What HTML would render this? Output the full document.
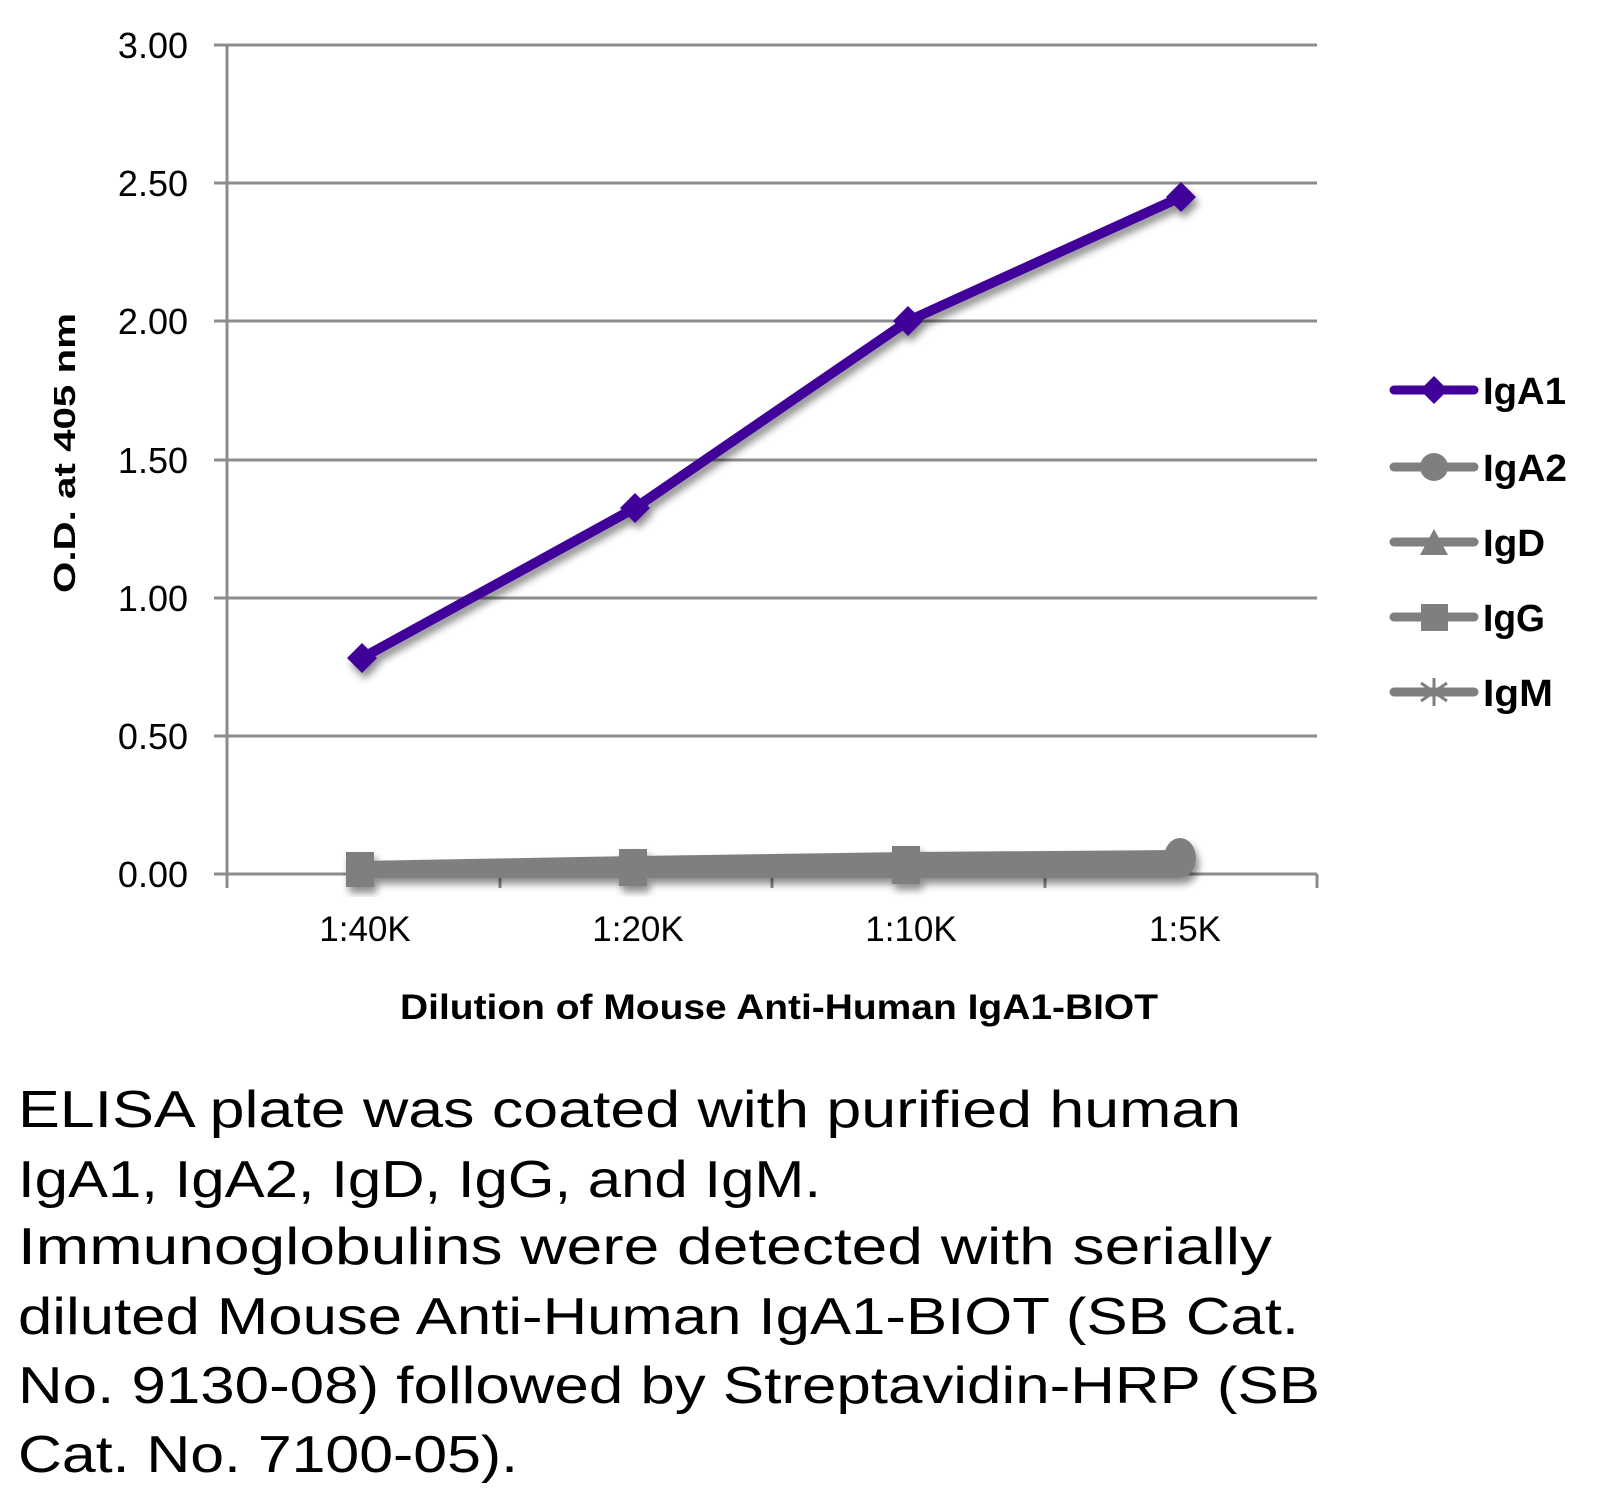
<!DOCTYPE html>
<html><head><meta charset="utf-8"><style>
html,body{margin:0;padding:0;background:#fff;}
svg{display:block;}
text{font-family:"Liberation Sans",sans-serif;fill:#000;}
</style></head><body>
<svg width="1600" height="1500" viewBox="0 0 1600 1500" xmlns="http://www.w3.org/2000/svg">
<defs>
<filter id="sh" x="-10%" y="-10%" width="130%" height="130%">
<feGaussianBlur in="SourceAlpha" stdDeviation="4"/>
<feOffset dx="3" dy="6" result="b"/>
<feComponentTransfer><feFuncA type="linear" slope="0.45"/></feComponentTransfer>
<feMerge><feMergeNode/><feMergeNode in="SourceGraphic"/></feMerge>
</filter>
</defs>
<!-- gridlines -->
<g stroke="#8c8c8c" stroke-width="3">
<line x1="214" y1="45" x2="1317" y2="45"/>
<line x1="214" y1="183" x2="1317" y2="183"/>
<line x1="214" y1="321" x2="1317" y2="321"/>
<line x1="214" y1="460" x2="1317" y2="460"/>
<line x1="214" y1="598" x2="1317" y2="598"/>
<line x1="214" y1="736" x2="1317" y2="736"/>
<line x1="214" y1="874" x2="1317" y2="874"/>
<line x1="227" y1="45" x2="227" y2="888"/>
<line x1="500" y1="874" x2="500" y2="888"/>
<line x1="772" y1="874" x2="772" y2="888"/>
<line x1="1045" y1="874" x2="1045" y2="888"/>
<line x1="1317" y1="874" x2="1317" y2="888"/>
</g>
<!-- y labels -->
<g font-size="36" text-anchor="end">
<text x="188" y="58">3.00</text>
<text x="188" y="196">2.50</text>
<text x="188" y="334">2.00</text>
<text x="188" y="473">1.50</text>
<text x="188" y="611">1.00</text>
<text x="188" y="749">0.50</text>
<text x="188" y="887">0.00</text>
</g>
<text transform="translate(75,453) rotate(-90)" font-size="31" font-weight="bold" text-anchor="middle" textLength="280" lengthAdjust="spacingAndGlyphs">O.D. at 405 nm</text>
<!-- x labels -->
<g font-size="35" text-anchor="middle">
<text x="365" y="941">1:40K</text>
<text x="638" y="941">1:20K</text>
<text x="911" y="941">1:10K</text>
<text x="1185" y="941">1:5K</text>
</g>
<text x="400" y="1019" font-size="35" font-weight="bold" textLength="758" lengthAdjust="spacingAndGlyphs">Dilution of Mouse Anti-Human IgA1-BIOT</text>
<!-- gray series -->
<g filter="url(#sh)" fill="#7f7f7f">
<polygon points="362,861 635,856 908,852 1181,850 1181,878 362,878"/>
<rect x="346" y="852" width="28" height="35"/>
<rect x="619" y="849" width="28" height="37"/>
<rect x="892" y="846" width="28" height="38"/>
<ellipse cx="1180" cy="858" rx="16" ry="20"/>
</g>
<!-- IgA1 -->
<g filter="url(#sh)">
<polyline points="362,658 635,508 908,321 1181,197" fill="none" stroke="#400099" stroke-width="10" stroke-linejoin="round"/>
<g fill="#400099">
<polygon points="362,643 377,658 362,673 347,658"/>
<polygon points="635,493 650,508 635,523 620,508"/>
<polygon points="908,306 923,321 908,336 893,321"/>
<polygon points="1181,182 1196,197 1181,212 1166,197"/>
</g>
</g>
<!-- legend -->
<g stroke-width="9" stroke-linecap="round">
<line x1="1394" y1="390" x2="1474" y2="390" stroke="#400099"/>
<line x1="1394" y1="467" x2="1474" y2="467" stroke="#7f7f7f"/>
<line x1="1394" y1="542" x2="1474" y2="542" stroke="#7f7f7f"/>
<line x1="1394" y1="617" x2="1474" y2="617" stroke="#7f7f7f"/>
<line x1="1394" y1="692" x2="1474" y2="692" stroke="#7f7f7f"/>
</g>
<polygon points="1434,376 1448,390 1434,404 1420,390" fill="#400099"/>
<circle cx="1434" cy="467" r="14" fill="#7f7f7f"/>
<polygon points="1434,529 1448,555 1420,555" fill="#7f7f7f"/>
<rect x="1421" y="604" width="27" height="27" fill="#7f7f7f"/>
<g stroke="#7f7f7f" stroke-width="3"><line x1="1434" y1="678" x2="1434" y2="706"/><line x1="1421" y1="683" x2="1447" y2="701"/><line x1="1421" y1="701" x2="1447" y2="683"/></g>
<g font-size="38" font-weight="bold">
<text x="1483" y="404" textLength="83" lengthAdjust="spacingAndGlyphs">IgA1</text>
<text x="1483" y="481" textLength="84" lengthAdjust="spacingAndGlyphs">IgA2</text>
<text x="1483" y="556" textLength="62" lengthAdjust="spacingAndGlyphs">IgD</text>
<text x="1483" y="631" textLength="62" lengthAdjust="spacingAndGlyphs">IgG</text>
<text x="1483" y="706" textLength="70" lengthAdjust="spacingAndGlyphs">IgM</text>
</g>
<!-- caption -->
<g font-size="52">
<text x="18" y="1127" textLength="1223" lengthAdjust="spacingAndGlyphs">ELISA plate was coated with purified human</text>
<text x="18" y="1197" textLength="803" lengthAdjust="spacingAndGlyphs">IgA1, IgA2, IgD, IgG, and IgM.</text>
<text x="18" y="1264" textLength="1254" lengthAdjust="spacingAndGlyphs">Immunoglobulins were detected with serially</text>
<text x="18" y="1334" textLength="1281" lengthAdjust="spacingAndGlyphs">diluted Mouse Anti-Human IgA1-BIOT (SB Cat.</text>
<text x="18" y="1403" textLength="1302" lengthAdjust="spacingAndGlyphs">No. 9130-08) followed by Streptavidin-HRP (SB</text>
<text x="18" y="1472" textLength="500" lengthAdjust="spacingAndGlyphs">Cat. No. 7100-05).</text>
</g>
</svg>
</body></html>
